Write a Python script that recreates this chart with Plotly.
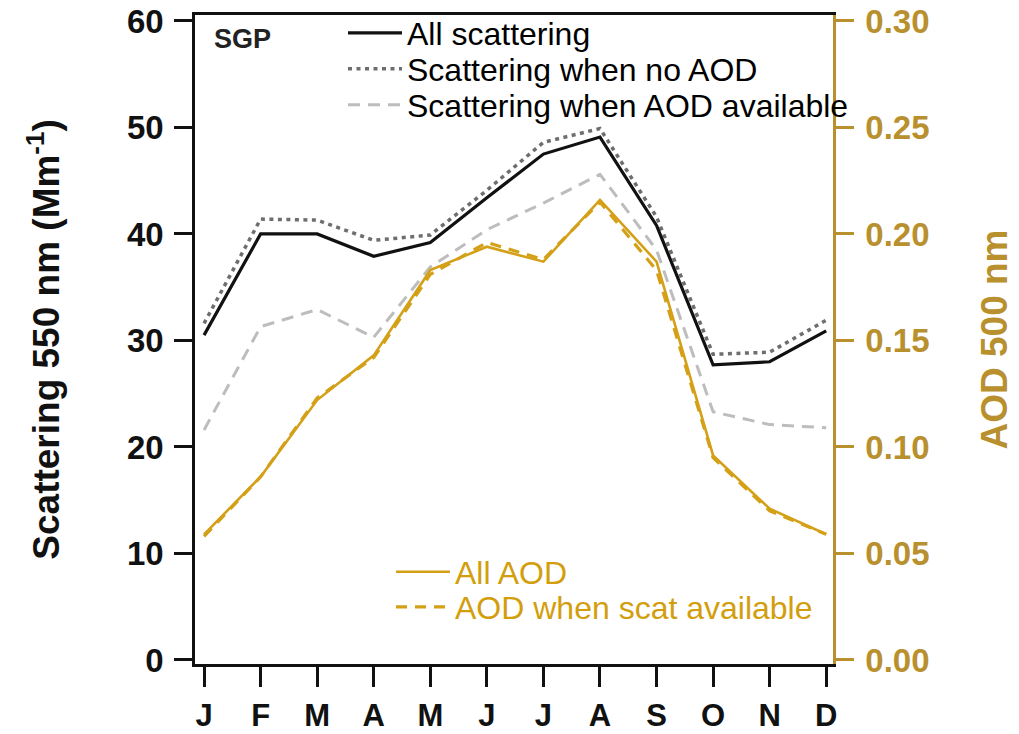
import plotly.graph_objects as go

# Monthly climatology at SGP
months = ["J", "F", "M", "A", "M", "J", "J", "A", "S", "O", "N", "D"]
month_idx = list(range(12))

# Scattering at 550 nm (Mm^-1)
scat_all = [30.5, 40.0, 40.0, 37.9, 39.2, 43.4, 47.5, 49.1, 40.8, 27.7, 28.0, 30.9]
scat_no_aod = [31.6, 41.4, 41.3, 39.4, 39.9, 44.1, 48.6, 49.9, 41.6, 28.7, 28.9, 31.9]
scat_with_aod = [21.6, 31.3, 32.9, 30.3, 36.9, 40.4, 42.9, 45.6, 38.5, 23.3, 22.1, 21.8]

# AOD at 500 nm
aod_all = [0.059, 0.086, 0.122, 0.143, 0.183, 0.194, 0.187, 0.216, 0.187, 0.096, 0.071, 0.059]
aod_with_scat = [0.058, 0.086, 0.123, 0.142, 0.181, 0.196, 0.188, 0.215, 0.183, 0.095, 0.070, 0.059]

left_ticks = [0, 10, 20, 30, 40, 50, 60]
right_ticks = [0.00, 0.05, 0.10, 0.15, 0.20, 0.25, 0.30]
right_labels = ["0.00", "0.05", "0.10", "0.15", "0.20", "0.25", "0.30"]

BLACK = "#111111"
DOT_GREY = "#6E6E6E"
DASH_GREY = "#BDBDBD"
GOLD = "#D4A017"
GOLD_TEXT = "#D39E0C"
GOLD_AXIS = "#B8902E"
FONT = "Arial, Liberation Sans, sans-serif"

fig = go.Figure()

fig.add_trace(go.Scatter(x=month_idx, y=scat_no_aod, mode="lines", name="Scattering when no AOD",
                         line=dict(color=DOT_GREY, width=3.5, dash="4px,4.5px"), legend="legend2"))
fig.add_trace(go.Scatter(x=month_idx, y=scat_with_aod, mode="lines", name="Scattering when AOD available",
                         line=dict(color=DASH_GREY, width=3, dash="12px,8px"), legend="legend3"))
fig.add_trace(go.Scatter(x=month_idx, y=scat_all, mode="lines", name="All scattering",
                         line=dict(color=BLACK, width=3.2), legend="legend"))
fig.add_trace(go.Scatter(x=month_idx, y=aod_with_scat, mode="lines", name="AOD when scat available",
                         line=dict(color=GOLD, width=3.2, dash="11px,8px"), yaxis="y2", legend="legend5"))
fig.add_trace(go.Scatter(x=month_idx, y=aod_all, mode="lines", name="All AOD",
                         line=dict(color=GOLD, width=2.6), yaxis="y2", legend="legend4"))

L, R, T, B = 195, 186, 15, 70
W, H = 1019, 734
pw, ph = W - L - R, H - T - B


def px_x(x):
    return (x - L) / pw


def px_y(y):
    return (H - B - y) / ph


def legend_box(x, y, color):
    return dict(x=px_x(x), y=px_y(y), xanchor="left", yanchor="middle",
                bgcolor="rgba(0,0,0,0)", borderwidth=0, itemwidth=54,
                font=dict(family=FONT, size=32, color=color), tracegroupgap=0)


fig.update_layout(
    width=W, height=H,
    margin=dict(l=L, r=R, t=T, b=B, autoexpand=False),
    paper_bgcolor="white", plot_bgcolor="white",
    font=dict(family=FONT),
    showlegend=True,
    legend=legend_box(343, 33, "black"),
    legend2=legend_box(343, 69, "black"),
    legend3=legend_box(343, 105, "black"),
    legend4=legend_box(391, 572, GOLD_TEXT),
    legend5=legend_box(391, 607, GOLD_TEXT),
    xaxis=dict(
        range=[-0.16, 11.12], tickmode="array", tickvals=month_idx, ticktext=months,
        automargin=False,
        showgrid=False, zeroline=False, showline=True, linecolor=BLACK, linewidth=2.5,
        mirror=True, ticks="outside", ticklen=20, tickwidth=2.5, tickcolor=BLACK,
        tickfont=dict(family=FONT, size=31, color=BLACK, weight="bold"),
        ticklabelstandoff=2,
    ),
    yaxis=dict(
        range=[-0.38, 60.56], tickmode="array", tickvals=left_ticks,
        automargin=False,
        showgrid=False, zeroline=False, showline=True, linecolor=BLACK, linewidth=2.5,
        ticks="outside", ticklen=18, tickwidth=2.5, tickcolor=BLACK,
        tickfont=dict(family=FONT, size=33, color=BLACK, weight="bold"),
        ticklabelstandoff=4,
        title=dict(text="Scattering 550 nm (Mm<sup>-1</sup>)", standoff=56,
                   font=dict(family=FONT, size=37, color=BLACK, weight="bold")),
    ),
    yaxis2=dict(
        range=[-0.0019, 0.3028], overlaying="y", side="right", tickmode="array",
        tickvals=right_ticks, ticktext=right_labels, automargin=False,
        showgrid=False, zeroline=False, showline=True, linecolor=GOLD_AXIS, linewidth=2.5,
        ticks="outside", ticklen=18, tickwidth=2.5, tickcolor=GOLD_AXIS,
        tickfont=dict(family=FONT, size=33, color=GOLD_AXIS, weight="bold"),
        ticklabelstandoff=5,
        title=dict(text="AOD 500 nm", standoff=53,
                   font=dict(family=FONT, size=37, color=GOLD_AXIS, weight="bold")),
    ),
    annotations=[
        dict(text="<b>SGP</b>", x=px_x(212), y=px_y(39), xref="paper", yref="paper",
             xanchor="left", yanchor="middle", showarrow=False,
             font=dict(family=FONT, size=27, color="#222222")),
    ],
)

fig.write_html("out.html")
